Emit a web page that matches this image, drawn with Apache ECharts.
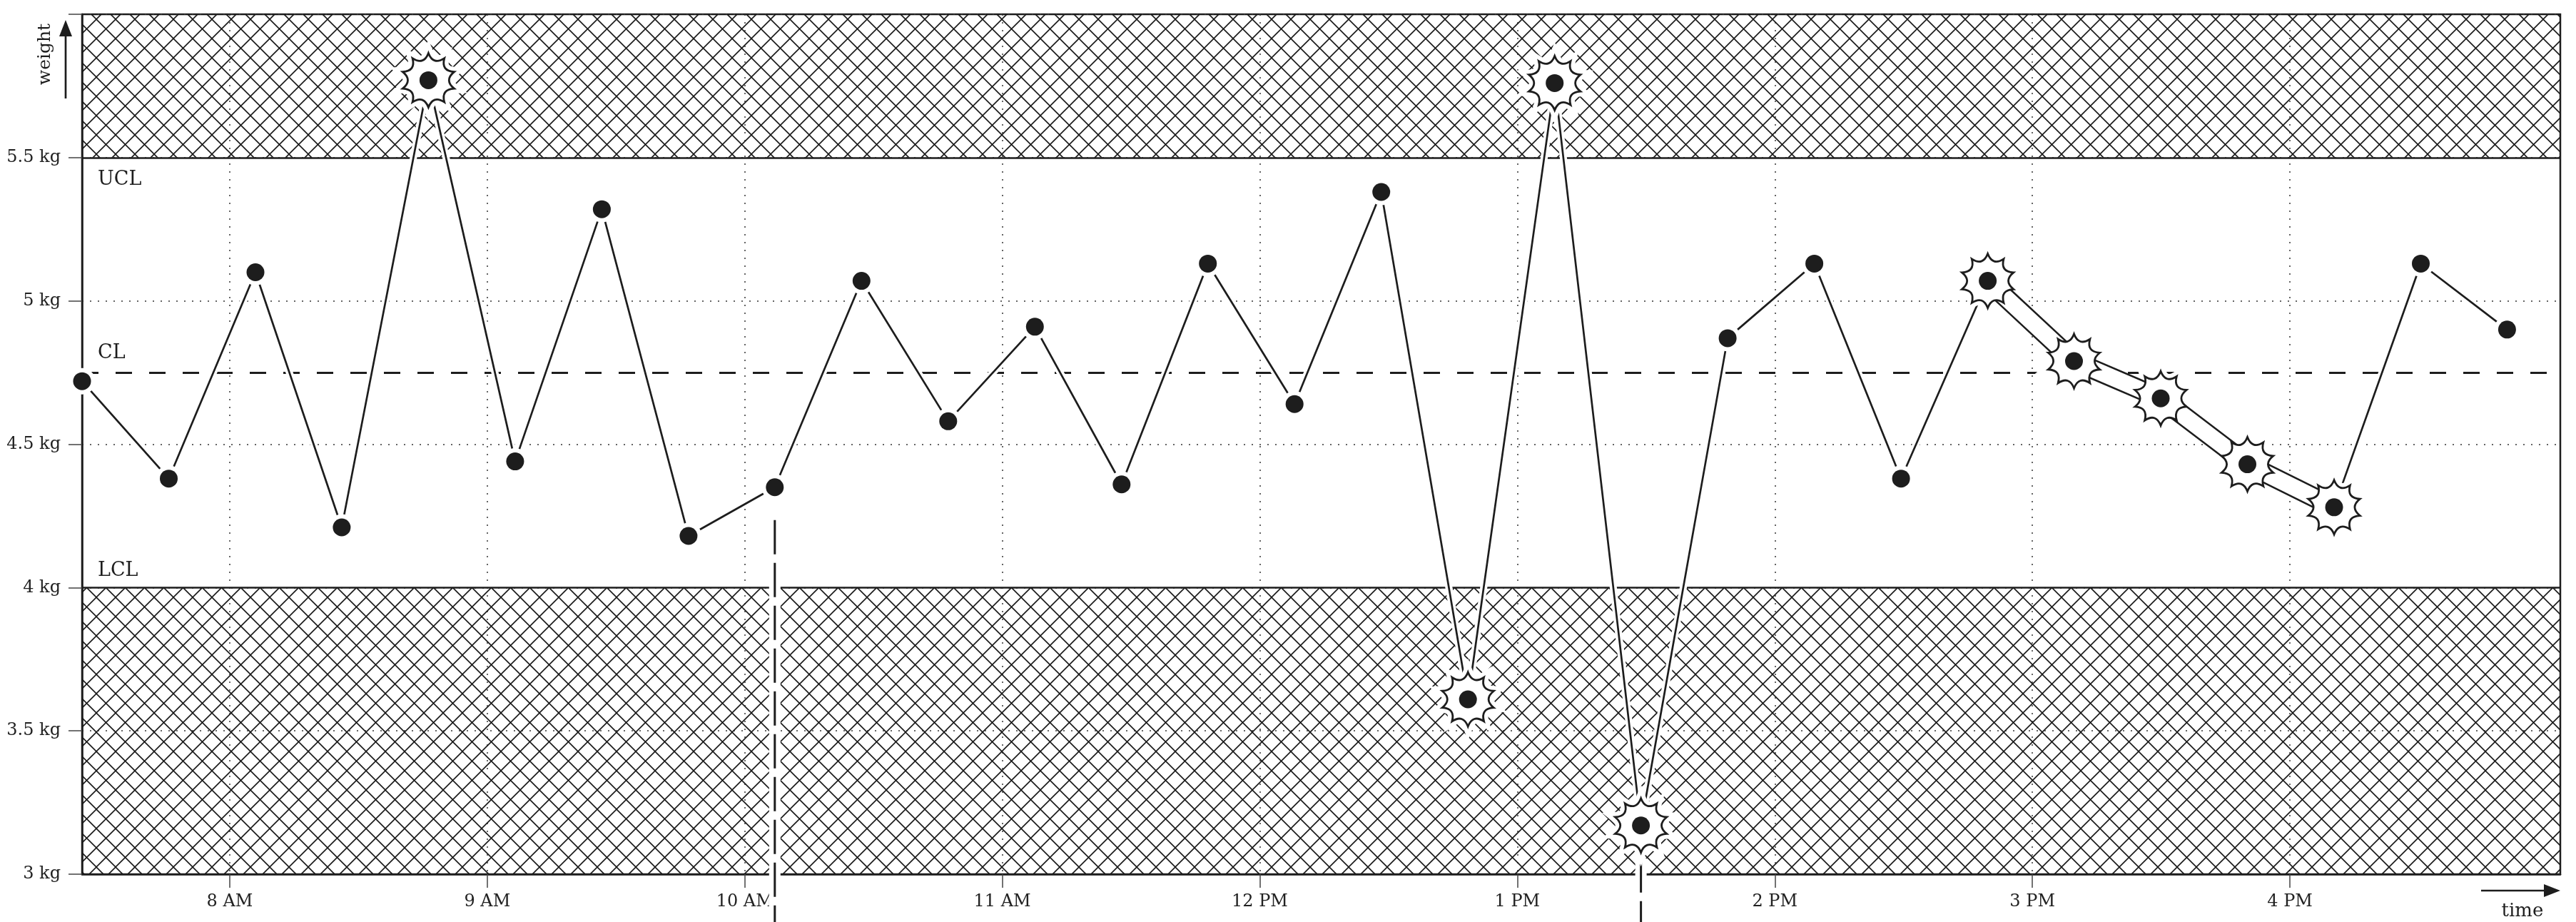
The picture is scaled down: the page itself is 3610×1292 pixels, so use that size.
<!DOCTYPE html>
<html>
<head>
<meta charset="utf-8">
<title>Control chart - weight over time</title>
<script src="https://cdn.jsdelivr.net/npm/echarts@6/dist/echarts.min.js"></script>
<style>
  html, body { margin: 0; padding: 0; background: #fff; }
  #chart { width: 3610px; height: 1292px; }
</style>
</head>
<body>
<div id="chart"></div>
<script>
// sample times and measured weights (kg)
const sampleTimes = [
  '07:25:36', '07:45:48', '08:06:00', '08:26:06', '08:46:18', '09:06:30',
  '09:26:42', '09:46:54', '10:07:00', '10:27:12', '10:47:24', '11:07:36',
  '11:27:48', '11:47:54', '12:08:06', '12:28:18', '12:48:30', '13:08:42',
  '13:28:48', '13:49:00', '14:09:12', '14:29:24', '14:49:36', '15:09:42',
  '15:29:54', '15:50:06', '16:10:18', '16:30:30', '16:50:36'
];
const weights = [
  4.72, 4.38, 5.10, 4.21, 5.77, 4.44,
  5.32, 4.18, 4.35, 5.07, 4.58, 4.91,
  4.36, 5.13, 4.64, 5.38, 3.61, 5.76,
  3.17, 4.87, 5.13, 4.38, 5.07, 4.79,
  4.66, 4.43, 4.28, 5.13, 4.90
];

// control limits
const UCL = 5.5;
const CL = 4.75;
const LCL = 4;

// flagged samples (indices into the arrays above)
const outOfControl = [4, 16, 17, 18];
const trendRun = [22, 23, 24, 25, 26];
const processShifts = [8, 18];

// axes
const timeStart = '07:25:36';
const timeEnd = '17:03:00';
const hourTicks = [8, 9, 10, 11, 12, 13, 14, 15, 16];
const hourLabels = ['8 AM', '9 AM', '10 AM', '11 AM', '12 PM', '1 PM', '2 PM', '3 PM', '4 PM'];
const weightMin = 3;
const weightMax = 6;
const weightTicks = [3, 3.5, 4, 4.5, 5, 5.5];

const INK = '#1d1d1d';
const FONT = '"DejaVu Serif", "Liberation Serif", serif';

function toHours(s) {
  const [h, m, sec] = s.split(':').map(Number);
  return h + m / 60 + (sec || 0) / 3600;
}

const points = sampleTimes.map((t, i) => [toHours(t), weights[i]]);
const flagged = outOfControl.concat(trendRun).map(i => points[i]);

// cross hatch tile for the out-of-control bands
function hatchTile(size) {
  const c = document.createElement('canvas');
  c.width = size; c.height = size;
  const ctx = c.getContext('2d');
  ctx.strokeStyle = '#1a1a1a';
  ctx.lineWidth = 1.6;
  ctx.beginPath();
  ctx.moveTo(-2, -2); ctx.lineTo(size + 2, size + 2);
  ctx.moveTo(size + 2, -2); ctx.lineTo(-2, size + 2);
  ctx.stroke();
  return c;
}

// scalloped "burst" marker outline
function burstPath(spikes, outer, ctrl) {
  let d = '';
  for (let k = 0; k <= spikes; k++) {
    const a = (-90 + 360 / spikes * k) * Math.PI / 180;
    const px = (outer * Math.cos(a)).toFixed(2);
    const py = (outer * Math.sin(a)).toFixed(2);
    if (k === 0) {
      d += 'M' + px + ' ' + py;
    } else {
      const c = a - Math.PI / spikes;
      d += ' Q' + (ctrl * Math.cos(c)).toFixed(2) + ' ' + (ctrl * Math.sin(c)).toFixed(2) + ' ' + px + ' ' + py;
    }
  }
  return 'path://' + d + ' Z';
}
const burst = burstPath(10, 36, 20.5);

const chart = echarts.init(document.getElementById('chart'), null, { renderer: 'canvas' });

// everything that has to knock out the bands and limit lines lives on zlevel 1
const options = {
  animation: false,
  backgroundColor: '#fff',
  grid: {
    left: 115, right: 22, top: 20, bottom: 67,
    show: true, borderColor: INK, borderWidth: 2.5,
    containLabel: false, outerBoundsMode: 'none'
  },
  xAxis: {
    type: 'value',
    min: toHours(timeStart),
    max: toHours(timeEnd),
    axisLine: { show: true, lineStyle: { color: INK, width: 2.5 } },
    axisTick: { show: true, customValues: hourTicks, length: 19, lineStyle: { color: '#444', width: 1.5 } },
    axisLabel: {
      customValues: hourTicks,
      formatter: v => hourLabels[hourTicks.indexOf(Math.round(v))] || '',
      margin: 27, fontFamily: FONT, fontSize: 24, color: '#222'
    },
    splitLine: { show: true, lineStyle: { type: [2, 9], color: '#333', width: 1.5 } }
  },
  yAxis: {
    type: 'value',
    min: weightMin, max: weightMax, interval: 0.5,
    axisLine: { show: true, lineStyle: { color: INK, width: 2.5 } },
    axisTick: { show: true, length: 19, lineStyle: { color: '#444', width: 1.5 } },
    axisLabel: {
      customValues: weightTicks,
      formatter: v => v + ' kg',
      margin: 30, fontFamily: FONT, fontSize: 24, color: '#222'
    },
    splitLine: { show: true, lineStyle: { type: [2, 9], color: '#333', width: 1.5 } }
  },
  graphic: [
    { type: 'text', x: 63, y: 76, rotation: Math.PI / 2, silent: true,
      style: { text: 'weight', font: '25px ' + FONT, fill: INK, align: 'center', verticalAlign: 'middle' } },
    { type: 'line', silent: true, shape: { x1: 92, y1: 138, x2: 92, y2: 45 }, style: { stroke: INK, lineWidth: 2.7 } },
    { type: 'polygon', silent: true, shape: { points: [[92, 28], [83, 51], [101, 51]] }, style: { fill: INK } },
    { type: 'text', x: 3535, y: 1277, silent: true,
      style: { text: 'time', font: '26px ' + FONT, fill: INK, align: 'center', verticalAlign: 'middle' } },
    { type: 'line', silent: true, shape: { x1: 3477, y1: 1248, x2: 3570, y2: 1248 }, style: { stroke: INK, lineWidth: 2.7 } },
    { type: 'polygon', silent: true, shape: { points: [[3588, 1248], [3565, 1239], [3565, 1257]] }, style: { fill: INK } }
  ],
  series: [
    {
      // bands and control limit lines
      name: 'limits', type: 'line', z: 1, silent: true,
      data: points, symbol: 'none', lineStyle: { opacity: 0 },
      markArea: {
        silent: true,
        itemStyle: { color: { image: hatchTile(27), repeat: 'repeat' }, opacity: 1 },
        data: [
          [{ yAxis: UCL }, { yAxis: weightMax }],
          [{ yAxis: weightMin }, { yAxis: LCL }]
        ]
      },
      markLine: {
        silent: true, symbol: 'none',
        label: { formatter: '{b}', fontFamily: FONT, fontSize: 27, color: INK },
        data: [
          { name: 'UCL', yAxis: UCL, lineStyle: { type: 'solid', width: 2.5, color: INK, opacity: 1 },
            label: { position: 'insideStartBottom', distance: [22, 18] } },
          { name: 'CL', yAxis: CL, lineStyle: { type: [23, 24], width: 3, color: INK, opacity: 1 },
            label: { position: 'insideStartTop', distance: [22, 14] } },
          { name: 'LCL', yAxis: LCL, lineStyle: { type: 'solid', width: 2.5, color: INK, opacity: 1 },
            label: { position: 'insideStartTop', distance: [22, 10] } }
        ]
      }
    },
    {
      // white casing under the data line
      name: 'casing', type: 'line', zlevel: 1, z: 1, silent: true,
      data: points, symbol: 'none',
      lineStyle: { color: '#fff', width: 10 }
    },
    {
      // process shift markers
      name: 'shifts', type: 'custom', zlevel: 1, z: 1, silent: true, clip: false,
      data: processShifts.map(i => points[i]),
      renderItem: (params, api) => {
        const p = api.coord([api.value(0), api.value(1)]);
        const y0 = p[1] + 46;
        const y1 = api.getHeight();
        return {
          type: 'group',
          children: [
            { type: 'line', shape: { x1: p[0], y1: y0, x2: p[0], y2: y1 }, style: { stroke: '#fff', lineWidth: 16 } },
            { type: 'line', shape: { x1: p[0], y1: y0, x2: p[0], y2: y1 }, style: { stroke: INK, lineWidth: 3, lineDash: [48, 12] } }
          ]
        };
      }
    },
    {
      name: 'weight', type: 'line', zlevel: 1, z: 2, silent: true,
      data: points, symbol: 'none',
      lineStyle: { color: INK, width: 2.7 }
    },
    {
      name: 'dotHalo', type: 'scatter', zlevel: 1, z: 3, silent: true, clip: false,
      data: points, symbol: 'circle', symbolSize: 37,
      itemStyle: { color: '#fff', opacity: 1 }
    },
    {
      name: 'burstHalo', type: 'scatter', zlevel: 1, z: 3, silent: true, clip: false,
      data: flagged, symbol: burst, symbolSize: 76, symbolKeepAspect: true,
      itemStyle: { color: '#fff', borderColor: '#fff', borderWidth: 14, opacity: 1 }
    },
    {
      // trend run outline, joined straight onto the bursts
      name: 'trendOuter', type: 'line', zlevel: 1, z: 4, silent: true,
      data: trendRun.map(i => points[i]), symbol: 'none',
      lineStyle: { color: INK, width: 28, join: 'round' }
    },
    {
      name: 'trendInner', type: 'line', zlevel: 1, z: 5, silent: true,
      data: trendRun.map(i => points[i]), symbol: 'none',
      lineStyle: { color: '#fff', width: 23, join: 'round' }
    },
    {
      name: 'burst', type: 'scatter', zlevel: 1, z: 6, silent: true, clip: false,
      data: flagged, symbol: burst, symbolSize: 76, symbolKeepAspect: true,
      itemStyle: { color: '#fff', borderColor: INK, borderWidth: 2.8, opacity: 1 }
    },
    {
      name: 'dots', type: 'scatter', zlevel: 1, z: 7, silent: true, clip: false,
      data: points, symbol: 'circle', symbolSize: 25,
      itemStyle: { color: INK, opacity: 1 }
    }
  ]
};
chart.setOption(options);
</script>
</body>
</html>
